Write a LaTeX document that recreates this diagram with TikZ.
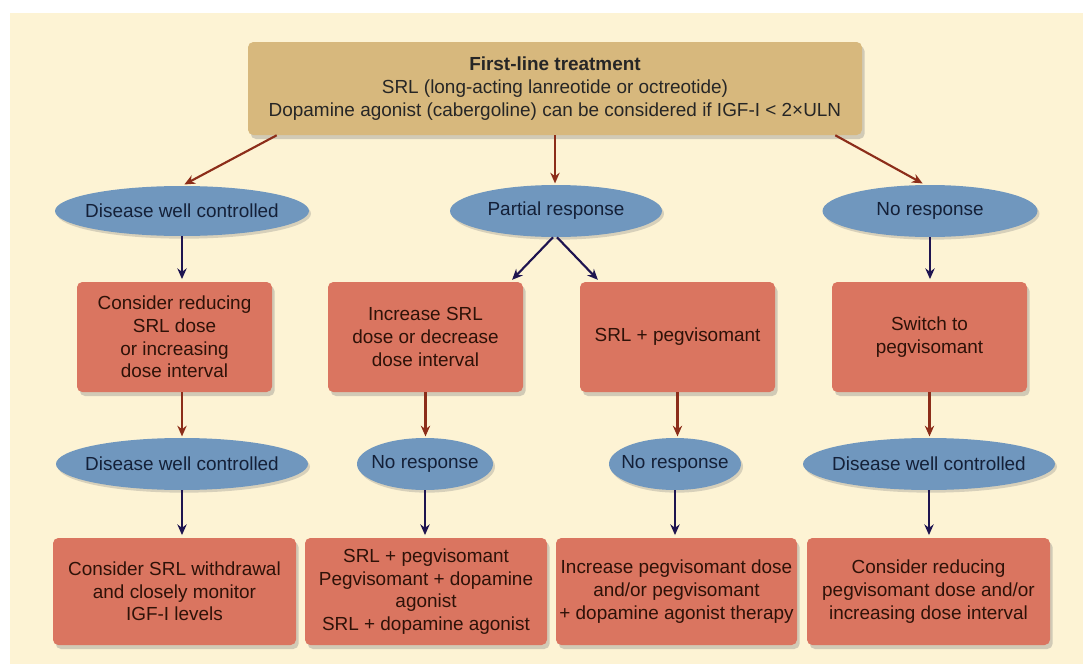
\documentclass[tikz,border=0pt]{standalone}
\usepackage{fontspec}
\setmainfont{Liberation Sans}
\usetikzlibrary{shapes.geometric,shadows,arrows.meta}
\newlength\px \setlength\px{0.75pt}
\newcommand\ovtxt[1]{\makebox[0pt][c]{#1}}
\definecolor{bgc}{HTML}{FDF3D4}
\definecolor{topc}{HTML}{D7B87D}
\definecolor{boxc}{HTML}{DA7560}
\definecolor{ellc}{HTML}{7097BE}
\definecolor{brownarr}{HTML}{8C2D19}
\definecolor{navyarr}{HTML}{1E1450}
\definecolor{boxtext}{HTML}{2E1208}
\definecolor{elltext}{HTML}{142038}
\begin{document}
\begin{tikzpicture}[x=0.75pt,y=-0.75pt,
  txt/.style={font=\fontsize{14.2}{17}\selectfont},
  topbox/.style={txt, draw=none, fill=topc, rounded corners=4pt, align=center,
    inner sep=0pt, text=black!85,
    drop shadow={opacity=0.35, shadow xshift=2pt, shadow yshift=-3pt}},
  stepbox/.style={txt, draw=none, fill=boxc, rounded corners=4pt, align=center,
    inner sep=0pt, text=boxtext, minimum height=110\px,
    drop shadow={opacity=0.35, shadow xshift=2pt, shadow yshift=-3pt}},
  lowbox/.style={stepbox, minimum height=107\px},
  oval/.style={txt, ellipse, draw=none, fill=ellc, inner sep=0pt, text=elltext,
    minimum height=50\px,
    drop shadow={opacity=0.3, shadow xshift=1.5pt, shadow yshift=-2pt}},
  brownline/.style={draw=brownarr, line width=1.6pt, -{Stealth[length=8pt,width=7pt]}},
  navyline/.style={draw=navyarr, line width=1.6pt, -{Stealth[length=8pt,width=7pt]}}
]
\useasboundingbox (0,0) rectangle (1083,664);
\fill[white] (0,0) rectangle (1083,664);
\fill[bgc] (10,13) rectangle (1083,664);

% top box
\node[topbox, minimum width=614\px, minimum height=93\px] (top) at (555,88.5)
  {{\bfseries First-line treatment}\\SRL (long-acting lanreotide or octreotide)\\Dopamine agonist (cabergoline) can be considered if IGF-I < 2×ULN};

% row 1 ellipses
\node[oval, minimum width=254\px] (e1) at (182,211) {\ovtxt{Disease well controlled}};
\node[oval, minimum width=212\px, minimum height=52\px] (e2) at (556,211) {\ovtxt{Partial response}};
\node[oval, minimum width=215\px, minimum height=52\px] (e3) at (930,211) {\ovtxt{No response}};

% row 2 boxes
\node[stepbox, minimum width=195\px] (b1) at (174.5,337) {Consider reducing\\SRL dose\\or increasing\\dose interval};
\node[stepbox, minimum width=195\px] (b2) at (425.5,337) {Increase SRL\\dose or decrease\\dose interval};
\node[stepbox, minimum width=195\px] (b3) at (677.5,337) {SRL + pegvisomant};
\node[stepbox, minimum width=195\px] (b4) at (929.5,337) {Switch to\\pegvisomant};

% row 3 ellipses
\node[oval, minimum width=252\px, minimum height=52\px] (e4) at (182,464) {\ovtxt{Disease well controlled}};
\node[oval, minimum width=136\px, minimum height=52\px] (e5) at (425,464) {\ovtxt{No response}};
\node[oval, minimum width=132\px, minimum height=52\px] (e6) at (675,464) {\ovtxt{No response}};
\node[oval, minimum width=252\px, minimum height=52\px] (e7) at (929,464) {\ovtxt{Disease well controlled}};

% row 4 boxes
\node[lowbox, minimum width=243\px] (b5) at (174.5,591.5) {Consider SRL withdrawal\\and closely monitor\\IGF-I levels};
\node[lowbox, minimum width=242\px] (b6) at (426,591.5) {SRL + pegvisomant\\Pegvisomant + dopamine\\agonist\\SRL + dopamine agonist};
\node[lowbox, minimum width=241\px] (b7) at (676.5,591.5) {Increase pegvisomant dose\\and/or pegvisomant\\+ dopamine agonist therapy};
\node[lowbox, minimum width=243\px] (b8) at (928.5,591.5) {Consider reducing\\pegvisomant dose and/or\\increasing dose interval};

% connectors from top box
\draw[brownline, shorten >=2pt] ([xshift=29\px]top.south west) -- (e1.north);
\draw[brownline, shorten >=1pt] (top.south) -- (top.south |- e2.north);
\draw[brownline, shorten >=2pt] ([xshift=-27\px]top.south east) -- ([xshift=-5\px]e3.north);

% row 1 -> row 2
\draw[navyline, shorten >=2pt] (e1.south) -- (e1.south |- b1.north);
\draw[navyline, shorten >=2pt] ([xshift=-3\px]e2.south) -- ([xshift=-13\px]b2.north east);
\draw[navyline, shorten >=2pt] ([xshift=1\px]e2.south) -- ([xshift=20\px]b3.north west);
\draw[navyline, shorten >=2pt] (e3.south) -- (e3.south |- b4.north);

% row 2 -> row 3
\draw[brownline, shorten >=1pt] (b1.south -| e4.north) -- (e4.north);
\draw[brownline, shorten >=1pt] (b2.south) -- (b2.south |- e5.north);
\draw[brownline, shorten >=1pt] (b3.south) -- (b3.south |- e6.north);
\draw[brownline, shorten >=1pt] (b4.south) -- (b4.south |- e7.north);

% row 3 -> row 4
\draw[navyline, shorten >=2pt] (e4.south) -- (e4.south |- b5.north);
\draw[navyline, shorten >=2pt] (e5.south) -- (e5.south |- b6.north);
\draw[navyline, shorten >=2pt] (e6.south) -- (e6.south |- b7.north);
\draw[navyline, shorten >=2pt] (e7.south) -- (e7.south |- b8.north);
\end{tikzpicture}
\end{document}
